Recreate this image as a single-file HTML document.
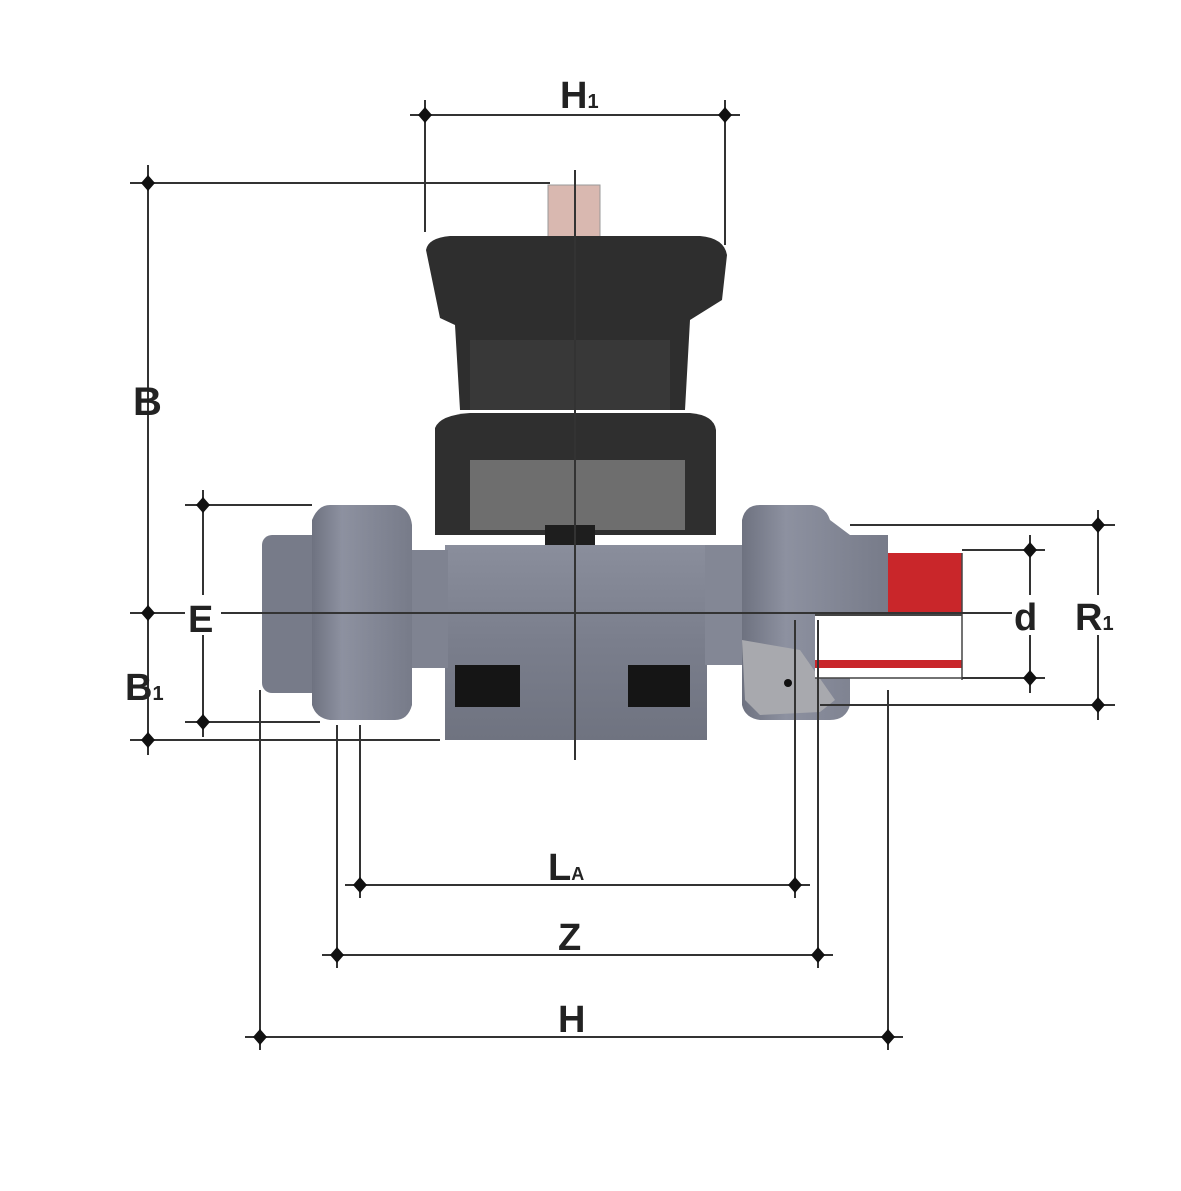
<!DOCTYPE html>
<html><head><meta charset="utf-8"><style>
html,body{margin:0;padding:0;background:#fff;}
svg{display:block}
text{font-family:"Liberation Sans",sans-serif;font-weight:bold;fill:#222;}
</style></head><body>
<svg width="1181" height="1191" viewBox="0 0 1181 1191" xmlns="http://www.w3.org/2000/svg">
<defs>
<linearGradient id="bodyg" x1="0" x2="0" y1="0" y2="1"><stop offset="0" stop-color="#8a8e9c"/><stop offset="0.5" stop-color="#7a7e8c"/><stop offset="1" stop-color="#6f7380"/></linearGradient>
<linearGradient id="nutg" x1="0" x2="1" y1="0" y2="0"><stop offset="0" stop-color="#6e7280"/><stop offset="0.3" stop-color="#8d91a0"/><stop offset="1" stop-color="#777b89"/></linearGradient>
</defs>
<!-- handwheel -->
<rect x="548" y="185" width="52" height="58" fill="#d9b8b0" stroke="#999" stroke-width="1"/>
<path d="M426 250 Q428 238 450 236 L700 236 Q724 238 727 255 L722 300 L690 320 L685 410 L460 410 L455 325 L440 318 Z" fill="#2e2e2e"/>
<rect x="470" y="340" width="200" height="70" fill="#383838"/>
<!-- bonnet -->
<path d="M435 428 Q440 415 470 413 L690 413 Q714 415 716 430 L716 535 L435 535 Z" fill="#2f2f2f"/>
<rect x="470" y="460" width="215" height="70" fill="#6e6e6e"/>
<rect x="545" y="525" width="50" height="22" fill="#1e1e1e"/>
<!-- body -->
<rect x="445" y="545" width="262" height="195" fill="url(#bodyg)"/>
<rect x="455" y="665" width="65" height="42" fill="#151515"/>
<rect x="628" y="665" width="62" height="42" fill="#151515"/>
<!-- left union -->
<rect x="410" y="550" width="38" height="118" fill="#7f8391"/>
<rect x="262" y="535" width="60" height="158" rx="10" fill="#777b89"/>
<path d="M312 520 Q318 505 330 505 L395 505 Q410 508 412 525 L412 705 Q408 720 395 720 L330 720 Q316 718 312 705 Z" fill="url(#nutg)"/>
<!-- right union -->
<rect x="705" y="545" width="42" height="120" fill="#838795"/>
<path d="M742 520 Q745 505 760 505 L812 505 Q826 507 830 520 L850 535 L888 535 L888 612 L850 612 L850 705 Q846 720 830 720 L760 720 Q745 718 742 705 Z" fill="url(#nutg)"/>
<path d="M742 640 L800 650 L835 700 L820 712 L760 715 L745 700 Z" fill="#a8a9ae"/>
<circle cx="788" cy="683" r="4" fill="#111"/>
<!-- pipe -->
<rect x="815" y="612" width="147" height="66" fill="#fff"/>
<rect x="888" y="553" width="74" height="62" fill="#c9262a"/>
<rect x="815" y="660" width="147" height="8" fill="#c9262a"/>
<line x1="815" y1="615" x2="962" y2="615" stroke="#444" stroke-width="2"/>
<line x1="962" y1="553" x2="962" y2="680" stroke="#444" stroke-width="1.5"/>
<line x1="815" y1="678" x2="962" y2="678" stroke="#444" stroke-width="1.5"/>
<!-- dimension lines -->
<g stroke="#333" stroke-width="2" fill="none">
<line x1="410" y1="115" x2="740" y2="115"/>
<line x1="425" y1="100" x2="425" y2="232"/>
<line x1="725" y1="100" x2="725" y2="245"/>
<line x1="130" y1="183" x2="550" y2="183"/>
<line x1="148" y1="165" x2="148" y2="755"/>
<line x1="130" y1="613" x2="1020" y2="613"/>
<line x1="130" y1="740" x2="440" y2="740"/>
<line x1="185" y1="505" x2="312" y2="505"/>
<line x1="185" y1="722" x2="320" y2="722"/>
<line x1="203" y1="490" x2="203" y2="737"/>
<line x1="575" y1="170" x2="575" y2="760"/>
<line x1="850" y1="525" x2="1115" y2="525"/>
<line x1="820" y1="705" x2="1115" y2="705"/>
<line x1="1098" y1="510" x2="1098" y2="720"/>
<line x1="962" y1="550" x2="1045" y2="550"/>
<line x1="962" y1="678" x2="1045" y2="678"/>
<line x1="1030" y1="535" x2="1030" y2="693"/>
<line x1="260" y1="690" x2="260" y2="1050"/>
<line x1="337" y1="725" x2="337" y2="968"/>
<line x1="360" y1="725" x2="360" y2="898"/>
<line x1="795" y1="620" x2="795" y2="898"/>
<line x1="818" y1="620" x2="818" y2="968"/>
<line x1="888" y1="690" x2="888" y2="1050"/>
<line x1="345" y1="885" x2="810" y2="885"/>
<line x1="322" y1="955" x2="833" y2="955"/>
<line x1="245" y1="1037" x2="903" y2="1037"/>
</g>
<g fill="#111">
<path d="M425 107l7 8-7 8-7-8z"/><path d="M725 107l7 8-7 8-7-8z"/>
<path d="M148 175l7 8-7 8-7-8z"/><path d="M148 605l7 8-7 8-7-8z"/><path d="M148 732l7 8-7 8-7-8z"/>
<path d="M203 497l7 8-7 8-7-8z"/><path d="M203 714l7 8-7 8-7-8z"/>
<path d="M1098 517l7 8-7 8-7-8z"/><path d="M1098 697l7 8-7 8-7-8z"/>
<path d="M1030 542l7 8-7 8-7-8z"/><path d="M1030 670l7 8-7 8-7-8z"/>
<path d="M360 877l7 8-7 8-7-8z"/><path d="M795 877l7 8-7 8-7-8z"/>
<path d="M337 947l7 8-7 8-7-8z"/><path d="M818 947l7 8-7 8-7-8z"/>
<path d="M260 1029l7 8-7 8-7-8z"/><path d="M888 1029l7 8-7 8-7-8z"/>
</g>
<!-- labels -->
<rect x="550" y="70" width="60" height="40" fill="#fff"/>
<text x="560" y="108" font-size="38">H<tspan font-size="20">1</tspan></text>
<text x="133" y="415" font-size="40">B</text>
<rect x="185" y="595" width="36" height="40" fill="#fff"/>
<text x="188" y="632" font-size="38">E</text>
<text x="125" y="700" font-size="38">B<tspan font-size="20">1</tspan></text>
<rect x="1012" y="595" width="34" height="40" fill="#fff"/>
<text x="1014" y="630" font-size="38">d</text>
<rect x="1075" y="595" width="50" height="40" fill="#fff"/>
<text x="1075" y="630" font-size="38">R<tspan font-size="20">1</tspan></text>
<text x="548" y="880" font-size="38">L<tspan font-size="18">A</tspan></text>
<text x="558" y="950" font-size="38">Z</text>
<text x="558" y="1032" font-size="38">H</text>
</svg>
</body></html>
